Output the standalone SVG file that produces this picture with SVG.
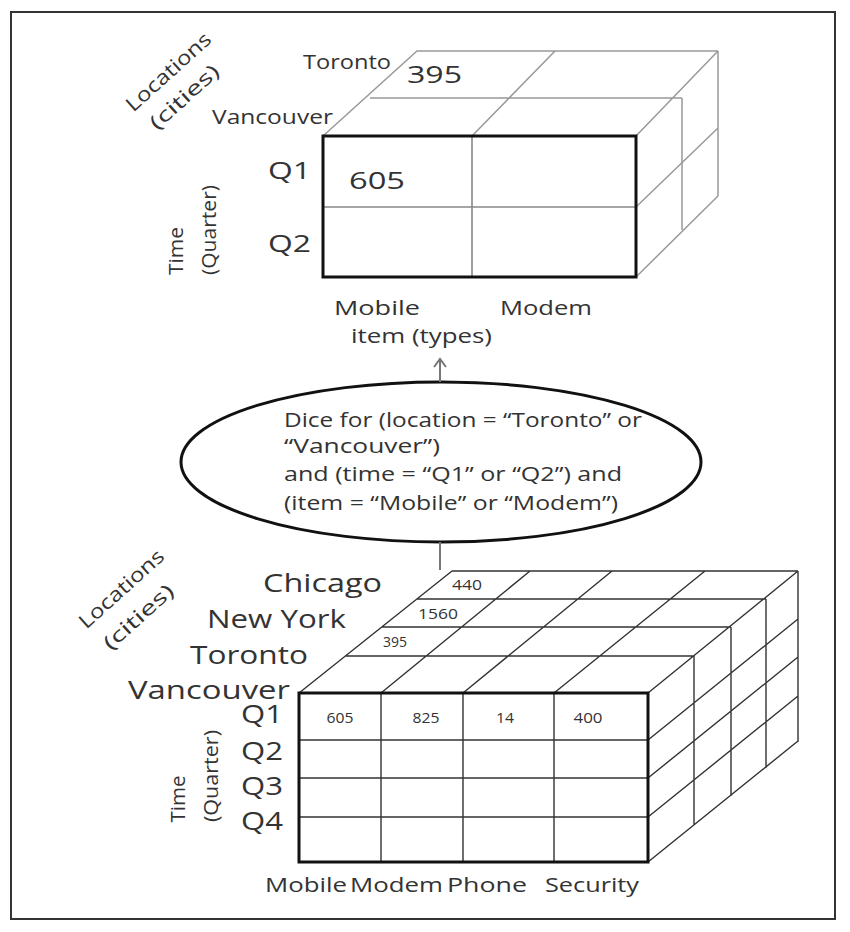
<svg xmlns="http://www.w3.org/2000/svg" width="850" height="932" viewBox="0 0 850 932">
<style>
text{font-family:"Open Sans","Noto Sans","DejaVu Sans",sans-serif;fill:#333}
.face{fill:none;stroke:#111;stroke-width:3}
.g1{fill:none;stroke:#888;stroke-width:1.6}
.g2{fill:none;stroke:#999;stroke-width:1.5}
.b1{fill:none;stroke:#333;stroke-width:1.4}
.conn{fill:none;stroke:#777;stroke-width:2}
.lbl{font-size:20px}
.big{font-size:25px}
.num{font-size:14px}
</style>
<rect x="11" y="12" width="824" height="907" fill="#fff" stroke="#333" stroke-width="2"/>

<g id="top-cube">
  <path class="g2" d="M323,136 L417,51 L718,51 M472,136 L555,51 M636,136 L718,51 M370,98 L682,98 M682,98 L682,230"/>
  <path class="g2" d="M636,207 L718,128 M636,277 L718,196 M718,51 L718,196"/>
  <path class="g1" d="M472,136 L472,277 M323,207 L636,207"/>
  <rect class="face" x="323" y="136" width="313" height="141"/>
  <text class="lbl" x="303" y="69" textLength="88" lengthAdjust="spacingAndGlyphs">Toronto</text>
  <text x="407" y="83" font-size="24" textLength="55" lengthAdjust="spacingAndGlyphs">395</text>
  <text class="lbl" x="212" y="124" textLength="121" lengthAdjust="spacingAndGlyphs">Vancouver</text>
  <text x="268" y="179" font-size="23" textLength="43" lengthAdjust="spacingAndGlyphs">Q1</text>
  <text x="268" y="252" font-size="23" textLength="43" lengthAdjust="spacingAndGlyphs">Q2</text>
  <text x="349" y="189" font-size="23" textLength="56" lengthAdjust="spacingAndGlyphs">605</text>
  <text class="lbl" x="334" y="315" textLength="86" lengthAdjust="spacingAndGlyphs">Mobile</text>
  <text class="lbl" x="500" y="315" textLength="92" lengthAdjust="spacingAndGlyphs">Modem</text>
  <text class="lbl" x="351" y="343" textLength="141" lengthAdjust="spacingAndGlyphs">item (types)</text>
  <text class="lbl" text-anchor="middle" transform="translate(183,251) rotate(-90)" textLength="48" lengthAdjust="spacingAndGlyphs">Time</text>
  <text class="lbl" text-anchor="middle" transform="translate(216,230) rotate(-90)" textLength="90" lengthAdjust="spacingAndGlyphs">(Quarter)</text>
  <text class="lbl" text-anchor="middle" transform="translate(173,77) rotate(-42)" textLength="107" lengthAdjust="spacingAndGlyphs">Locations</text>
  <text class="lbl" text-anchor="middle" transform="translate(189,102) rotate(-42)" textLength="86" lengthAdjust="spacingAndGlyphs">(cities)</text>
</g>

<g id="dice-operation">
  <ellipse cx="441" cy="462" rx="260" ry="80" fill="#fff" stroke="#111" stroke-width="3"/>
  <text class="lbl" x="284" y="427" textLength="358" lengthAdjust="spacingAndGlyphs">Dice for (location = “Toronto” or</text>
  <text class="lbl" x="284" y="453" textLength="156" lengthAdjust="spacingAndGlyphs">“Vancouver”)</text>
  <text class="lbl" x="284" y="481" textLength="338" lengthAdjust="spacingAndGlyphs">and (time = “Q1” or “Q2”) and</text>
  <text class="lbl" x="284" y="510" textLength="334" lengthAdjust="spacingAndGlyphs">(item = “Mobile” or “Modem”)</text>
</g>

<g id="bottom-cube">
  <path class="b1" d="M452,571 L798,571 M417,599 L766,599 M382,627 L731,627 M345,656 L694,656
    M299,693 L452,571 M381,693 L530,571 M463,693 L612,571 M554,693 L705,571 M648,693 L798,571"/>
  <path class="b1" d="M694,656 L694,825 M731,627 L731,796 M766,599 L766,768 M798,571 L798,742
    M648,740 L798,619 M648,778 L798,657 M648,817 L798,696 M648,862 L798,741"/>
  <path class="b1" d="M381,693 L381,862 M463,693 L463,862 M554,693 L554,862 M299,740 L648,740 M299,778 L648,778 M299,817 L648,817"/>
  <rect class="face" x="299" y="693" width="349" height="169"/>
  <text class="num" x="340" y="723" text-anchor="middle" textLength="27" lengthAdjust="spacingAndGlyphs">605</text>
  <text class="num" x="426" y="723" text-anchor="middle" textLength="27" lengthAdjust="spacingAndGlyphs">825</text>
  <text class="num" x="505" y="723" text-anchor="middle" textLength="18" lengthAdjust="spacingAndGlyphs">14</text>
  <text class="num" x="588" y="723" text-anchor="middle" textLength="29" lengthAdjust="spacingAndGlyphs">400</text>
  <text class="num" x="467" y="590" text-anchor="middle" textLength="30" lengthAdjust="spacingAndGlyphs">440</text>
  <text class="num" x="438" y="619" text-anchor="middle" textLength="40" lengthAdjust="spacingAndGlyphs">1560</text>
  <text class="num" x="395" y="647" text-anchor="middle" textLength="24" lengthAdjust="spacingAndGlyphs">395</text>
  <text class="big" x="263" y="592" textLength="119" lengthAdjust="spacingAndGlyphs">Chicago</text>
  <text class="big" x="207" y="628" textLength="139" lengthAdjust="spacingAndGlyphs">New York</text>
  <text class="big" x="190" y="664" textLength="118" lengthAdjust="spacingAndGlyphs">Toronto</text>
  <text class="big" x="128" y="699" textLength="162" lengthAdjust="spacingAndGlyphs">Vancouver</text>
  <text class="big" x="241" y="723" textLength="42" lengthAdjust="spacingAndGlyphs">Q1</text>
  <text class="big" x="241" y="760" textLength="42" lengthAdjust="spacingAndGlyphs">Q2</text>
  <text class="big" x="241" y="795" textLength="42" lengthAdjust="spacingAndGlyphs">Q3</text>
  <text class="big" x="241" y="830" textLength="42" lengthAdjust="spacingAndGlyphs">Q4</text>
  <text class="lbl" text-anchor="middle" transform="translate(185,799) rotate(-90)" textLength="47" lengthAdjust="spacingAndGlyphs">Time</text>
  <text class="lbl" text-anchor="middle" transform="translate(218,776) rotate(-90)" textLength="92" lengthAdjust="spacingAndGlyphs">(Quarter)</text>
  <text class="lbl" text-anchor="middle" transform="translate(126,594) rotate(-42)" textLength="107" lengthAdjust="spacingAndGlyphs">Locations</text>
  <text class="lbl" text-anchor="middle" transform="translate(143,622) rotate(-42)" textLength="87" lengthAdjust="spacingAndGlyphs">(cities)</text>
  <text class="lbl" x="265" y="892" textLength="82" lengthAdjust="spacingAndGlyphs">Mobile</text>
  <text class="lbl" x="350" y="892" textLength="93" lengthAdjust="spacingAndGlyphs">Modem</text>
  <text class="lbl" x="447" y="892" textLength="80" lengthAdjust="spacingAndGlyphs">Phone</text>
  <text class="lbl" x="545" y="892" textLength="94" lengthAdjust="spacingAndGlyphs">Security</text>
</g>

<g id="connectors">
  <path class="conn" d="M440,382 L440,359"/>
  <path class="conn" d="M434,367 L440,359 L446,367" stroke-width="1.6"/>
  <path class="conn" d="M440,542 L440,570"/>
</g>
</svg>
